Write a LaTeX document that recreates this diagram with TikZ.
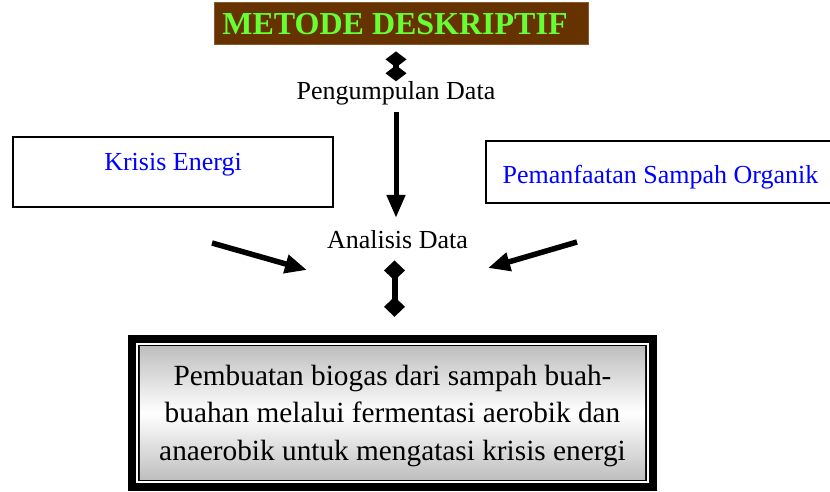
\documentclass[tikz,border=0pt]{standalone}
\usepackage{fontspec}
\setmainfont{Liberation Serif}
\usetikzlibrary{arrows.meta}
\definecolor{titlebrown}{HTML}{663300}
\definecolor{titleedge}{HTML}{8A5A2E}
\definecolor{titlegreen}{HTML}{66FF33}
\definecolor{txtblue}{HTML}{0000FF}
\begin{document}
\begin{tikzpicture}[x=1pt,y=-1pt,
  lbl/.style={font=\fontsize{26}{30}\selectfont, inner sep=0pt, anchor=base},
  framebox/.style={draw=black, line width=2.5pt, inner sep=0pt},
  thickarrow/.style={line width=5pt, -{Triangle[width=18pt,length=23pt]}},
  diagarrow/.style={line width=5.5pt, -{Triangle[width=18pt,length=22pt]}},
  diamarrow/.style={line width=6pt, {Diamond[width=21pt,length=20pt]}-{Diamond[width=21pt,length=20pt]}},
  shortdiam/.style={line width=6pt, {Diamond[width=21pt,length=16pt]}-{Diamond[width=21pt,length=16pt]}}
  ]
\useasboundingbox (0,0) rectangle (830,492);
\clip (0,0) rectangle (830,492);
\fill[white] (0,0) rectangle (830,492);

% title
\node (title) [fill=titlebrown, draw=titleedge, line width=0.8pt, minimum width=374pt, minimum height=42pt, inner sep=0pt] at (401,23) {};
\node (titletext) [lbl, font=\fontsize{32}{36}\selectfont\bfseries, text=titlegreen] at (395,35) {METODE DESKRIPTIF};

% labels
\node (pengumpulan) [lbl] at (396,100) {Pengumpulan Data};
\node (analisis) [lbl] at (397.5,248) {Analisis Data};

% side boxes
\node (krisis) [framebox, minimum width=320pt, minimum height=70pt] at (173,172) {};
\node (krisistext) [lbl, text=txtblue] at (173,171) {Krisis Energi};
\node (pemanfaatan) [framebox, minimum width=354pt, minimum height=62pt] at (663,172) {};
\node (pemtext) [lbl, text=txtblue] at (660.5,183) {Pemanfaatan Sampah Organik};

% result box
\node (result) [fill=black, minimum width=529pt, minimum height=156pt, inner sep=0pt] at (392.5,413) {};
\fill[white] ([shift={(8pt,-8pt)}]result.north west) rectangle ([shift={(-8pt,8pt)}]result.south east);
\draw[line width=1.8pt] ([shift={(11pt,-11pt)}]result.north west) rectangle ([shift={(-11pt,11pt)}]result.south east);
\shade[top color=gray!50, bottom color=gray!50, middle color=white] ([shift={(12pt,-12pt)}]result.north west) rectangle ([shift={(-12pt,12pt)}]result.south east);
\node (resulttext) [align=center, font=\fontsize{29.3}{37.5}\selectfont, inner sep=0pt] at (392.5,415.5) {Pembuatan biogas dari sampah buah-\\buahan melalui fermentasi aerobik dan\\anaerobik untuk mengatasi krisis energi};

% connectors
\draw[shortdiam] ([yshift=-7pt]title.south -| pengumpulan.center) -- ([yshift=0.5pt]pengumpulan.north);
\draw[thickarrow, shorten <=6pt, shorten >=12pt] (pengumpulan.south) -- (pengumpulan.south |- analisis.north);
\draw[diamarrow, shorten <=12pt, shorten >=18pt] ([xshift=-3pt]analisis.south) -- ([xshift=-3pt]analisis.south |- result.north);
\coordinate (leftstart) at (212,243);
\coordinate (lefttip) at (307,270);
\coordinate (rightstart) at (577,242);
\coordinate (righttip) at (488,268);
\draw[diagarrow] (leftstart) -- (lefttip);
\draw[diagarrow] (rightstart) -- (righttip);
\end{tikzpicture}
\end{document}
